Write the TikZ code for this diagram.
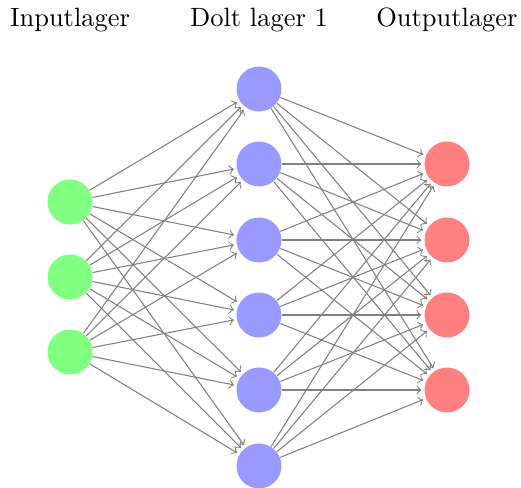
\documentclass[tikz,border=0pt]{standalone}
\begin{document}
\begin{tikzpicture}[x=0.013283cm,y=-0.013283cm,
  edge/.style={->,draw=black!50,shorten >=1pt},
  neuron/.style={circle,fill=black!25,minimum size=17pt,inner sep=0pt},
  inneuron/.style={neuron,fill=green!50},
  outneuron/.style={neuron,fill=red!50},
  hidneuron/.style={neuron,fill=blue!40},
  annot/.style={text centered}]
\useasboundingbox (0,0) rectangle (521,488);
\foreach \i/\y in {1/202,2/277,3/352}
  \node[inneuron] (I-\i) at (70,\y) {};
\foreach \i/\y in {1/89,2/164,3/240,4/315,5/390,6/466}
  \node[hidneuron] (H-\i) at (259,\y) {};
\foreach \i/\y in {1/164,2/240,3/315,4/390}
  \node[outneuron] (O-\i) at (447,\y) {};
\foreach \s in {1,...,3}
  \foreach \d in {1,...,6}
    \draw[edge] (I-\s) -- (H-\d);
\foreach \s in {1,...,6}
  \foreach \d in {1,...,4}
    \draw[edge] (H-\s) -- (O-\d);
\node[annot] (la) at (70,20) {Inputlager};
\node[annot] (lb) at (259,20) {Dolt lager 1};
\node[annot] (lc) at (447,20) {Outputlager};
\end{tikzpicture}
\end{document}
